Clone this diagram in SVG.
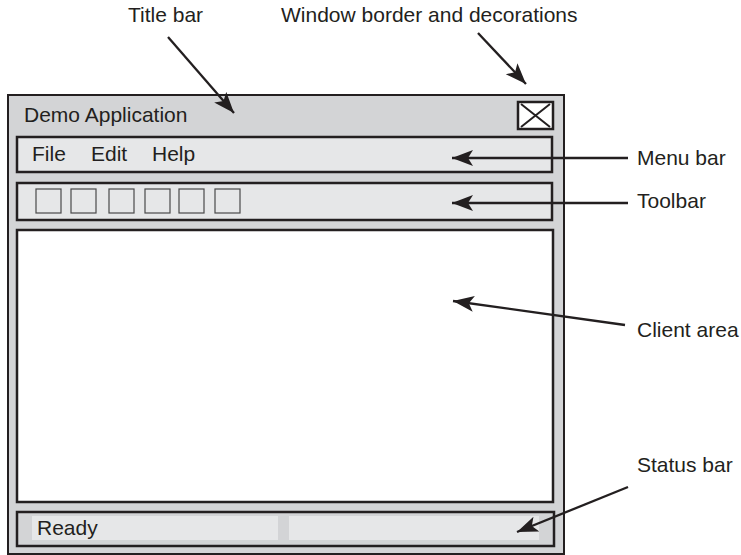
<svg xmlns="http://www.w3.org/2000/svg" width="741" height="555" viewBox="0 0 741 555">
<style>
text{font-family:"Liberation Sans",Arial,sans-serif;font-size:21px;fill:#231f20}
.panel{fill:#e6e7e8;stroke:#231f20;stroke-width:2.5}
.btn{fill:#e6e7e8;stroke:#4a4a4a;stroke-width:1.2}
.conn{stroke:#231f20;stroke-width:2.3;fill:none;marker-end:url(#ah)}
</style>
<defs>
<marker id="ah" markerUnits="userSpaceOnUse" markerWidth="24" markerHeight="18" refX="21" refY="8" orient="auto">
<path d="M0,0 L21,8 L0,16 L5,8 z" fill="#231f20"/>
</marker>
</defs>
<rect width="741" height="555" fill="#fff"/>
<g id="window">
<rect x="8" y="95" width="556" height="459" fill="#d3d4d6" stroke="#231f20" stroke-width="2"/>
<text x="24" y="122">Demo Application</text>
</g>
<g id="close-button">
<rect x="518" y="102" width="35" height="27" fill="#fff" stroke="#231f20" stroke-width="2.5"/>
<path d="M521,104 L550,127 M550,104 L521,127" stroke="#231f20" stroke-width="2"/>
</g>
<g id="menu-bar">
<rect class="panel" x="17" y="137" width="535" height="35"/>
<text x="32" y="161">File</text>
<text x="91" y="161">Edit</text>
<text x="152" y="161">Help</text>
</g>
<g id="toolbar">
<rect class="panel" x="17" y="183" width="535" height="37"/>
<rect class="btn" x="36" y="189" width="25" height="24"/>
<rect class="btn" x="71" y="189" width="25" height="24"/>
<rect class="btn" x="109" y="189" width="25" height="24"/>
<rect class="btn" x="145" y="189" width="25" height="24"/>
<rect class="btn" x="179" y="189" width="25" height="24"/>
<rect class="btn" x="215" y="189" width="25" height="24"/>
</g>
<g id="client-area">
<rect x="17" y="230" width="536" height="272" fill="#fff" stroke="#231f20" stroke-width="2.5"/>
</g>
<g id="status-bar">
<rect x="17" y="512" width="537" height="34" fill="#d3d4d6" stroke="#231f20" stroke-width="2.5"/>
<rect x="32" y="516" width="246" height="24" fill="#e6e7e8"/>
<rect x="289" y="516" width="250" height="24" fill="#e6e7e8"/>
<text x="37" y="535">Ready</text>
</g>
<g id="labels">
<text x="128" y="22">Title bar</text>
<text x="281" y="22">Window border and decorations</text>
<text x="637" y="165">Menu bar</text>
<text x="637" y="208">Toolbar</text>
<text x="637" y="337">Client area</text>
<text x="637" y="472">Status bar</text>
</g>
<g id="connectors">
<line class="conn" x1="168" y1="37" x2="234" y2="113"/>
<line class="conn" x1="478" y1="33" x2="526" y2="84"/>
<line class="conn" x1="628" y1="158" x2="452" y2="158"/>
<line class="conn" x1="628" y1="203" x2="452" y2="203"/>
<line class="conn" x1="625" y1="325" x2="453" y2="301"/>
<line class="conn" x1="628" y1="487" x2="517" y2="532"/>
</g>
</svg>
